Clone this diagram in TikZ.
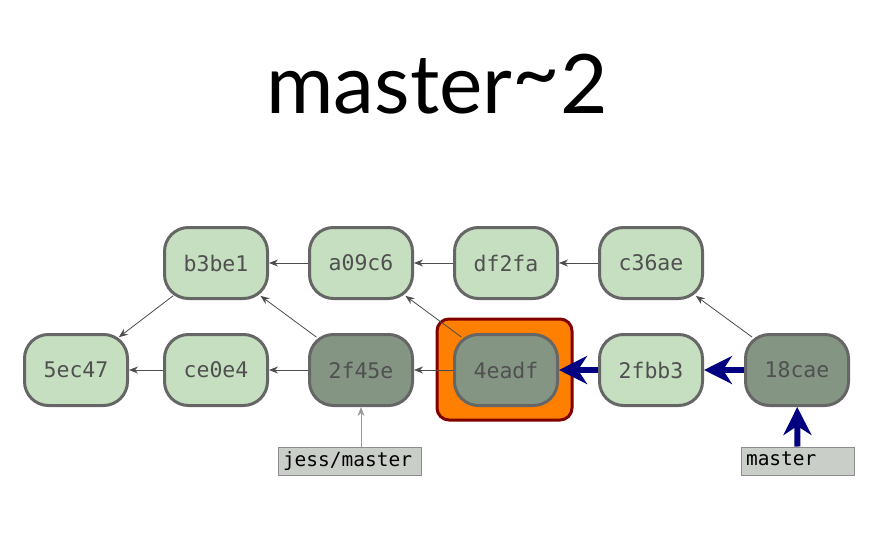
\documentclass[tikz,border=0pt]{standalone}
\usepackage{fontspec}
\setmainfont{Lato}
\setmonofont{DejaVu Sans Mono}
\usepackage{tikz}
\usetikzlibrary{arrows.meta}

\definecolor{lightcommit}{HTML}{C5DFC0}
\definecolor{darkcommit}{HTML}{849683}
\definecolor{commitborder}{HTML}{666666}
\definecolor{hashtext}{HTML}{505050}
\definecolor{reffill}{HTML}{C9CEC9}
\definecolor{navyarrow}{HTML}{000080}
\definecolor{hlorange}{HTML}{FF8000}
\definecolor{hlborder}{HTML}{800000}

\tikzset{
  commit/.style={rectangle, rounded corners=24pt,
    minimum width=103pt, minimum height=71pt, inner sep=0pt,
    draw=commitborder, line width=3pt, fill=lightcommit,
    text=hashtext, font=\ttfamily\fontsize{21.5}{24}\selectfont},
  dark/.style={commit, fill=darkcommit},
  refbox/.style={draw=gray!90, line width=1pt, fill=reffill, inner sep=0pt,
    minimum height=28pt, text width=#1, align=left, text depth=4pt,
    font=\ttfamily\fontsize{19.5}{22}\selectfont},
  parent/.style={->, draw=black!70, line width=0.8pt, >={Stealth[length=9pt,width=7pt]}},
  diag/.style={parent, shorten <=-7pt, shorten >=-7pt},
  walk/.style={->, draw=navyarrow, line width=6pt, >={Stealth[length=28pt,width=28pt,inset=9pt]}}
}

\begin{document}
\begin{tikzpicture}[x=1pt,y=-1pt]
			\useasboundingbox (0,0) rectangle (888,559);

			\node (title) at (437,84) {\fontsize{82}{86}\selectfont master\raisebox{12pt}{\textasciitilde}2};

			% highlighted commit
			\draw[hlborder, line width=3pt, fill=hlorange, rounded corners=12pt] (437,319) rectangle (572,420);

			% top row
			\node[commit] (b3be1) at (216,263) {b3be1};
			\node[commit] (a09c6) at (361,263) {a09c6};
			\node[commit] (df2fa) at (506,263) {df2fa};
			\node[commit] (c36ae) at (651,263) {c36ae};

			% bottom row
			\node[commit] (5ec47) at (76,370) {5ec47};
			\node[commit] (ce0e4) at (216,370) {ce0e4};
			\node[dark] (2f45e) at (361,370) {2f45e};
			\node[dark] (4eadf) at (506,370) {4eadf};
			\node[commit] (2fbb3) at (651,370) {2fbb3};
			\node[dark] (18cae) at (797,370) {18cae};

			% branch labels
			\node[refbox=143pt] (jess) at (349.5,461) {\hspace{5pt}jess/master};
			\node[refbox=113pt] (master) at (797.5,461) {\hspace{5pt}master};

			\draw[parent] (a09c6) -- (b3be1);
			\draw[parent] (df2fa) -- (a09c6);
			\draw[parent] (c36ae) -- (df2fa);
			\draw[parent] (ce0e4) -- (5ec47);
			\draw[parent] (2f45e) -- (ce0e4);
			\draw[parent] (4eadf) -- (2f45e);
			\draw[diag] (b3be1) -- (5ec47);
			\draw[diag] (2f45e) -- (b3be1);
			\draw[diag] (4eadf) -- (a09c6);
			\draw[diag] (18cae) -- (c36ae);
			\draw[parent, draw=gray!80] (jess.north -| 2f45e) -- (2f45e);

			\draw[walk] (18cae) -- (2fbb3);
			\draw[walk] (2fbb3) -- (4eadf);
			\draw[walk] (master) -- (18cae);
		\end{tikzpicture}
\end{document}
